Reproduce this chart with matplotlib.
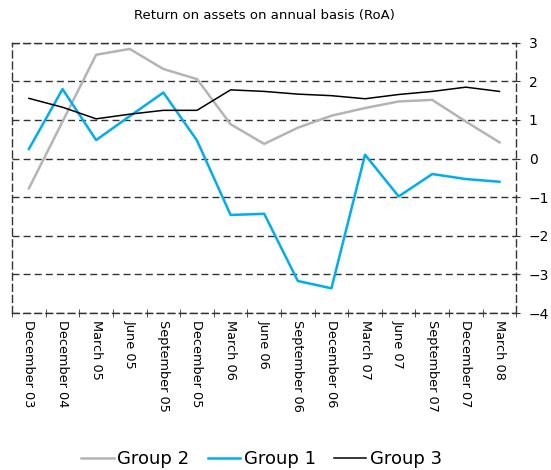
import numpy as np
import matplotlib.pyplot as plt

# quarterly return on assets, per cent
quarters = ['December 03', 'December 04', 'March 05', 'June 05', 'September 05',
            'December 05', 'March 06', 'June 06', 'September 06', 'December 06',
            'March 07', 'June 07', 'September 07', 'December 07', 'March 08']
group2 = [-0.77, 0.96, 2.69, 2.84, 2.32, 2.06, 0.89, 0.38, 0.80, 1.11, 1.31, 1.48, 1.52, 0.96, 0.42]
group1 = [0.25, 1.80, 0.48, 1.10, 1.71, 0.47, -1.46, -1.43, -3.17, -3.36, 0.10, -0.98, -0.40, -0.53, -0.60]
group3 = [1.56, 1.33, 1.03, 1.15, 1.25, 1.25, 1.78, 1.74, 1.67, 1.63, 1.55, 1.66, 1.74, 1.85, 1.74]

fig = plt.figure(figsize=(5.51, 4.70), dpi=100)
ax = fig.add_axes([0.022, 0.334, 0.915, 0.575])

x = np.arange(len(quarters))
ax.plot(x, group2, color='#b4b4b4', lw=1.8, label='Group 2')
ax.plot(x, group1, color='#00adef', lw=1.8, label='Group 1')
ax.plot(x, group3, color='black', lw=1.1, label='Group 3')

ax.set_xlim(-0.5, len(quarters) - 0.5)
ax.set_ylim(-4, 3)
ax.set_yticks(range(-4, 4))
ax.yaxis.tick_right()
ax.tick_params(axis='y', direction='inout', length=6, labelsize=10, pad=6, color='#333333')

ax.set_xticks(x)
ax.set_xticklabels(quarters, rotation=270, fontsize=9.3)
ax.set_xticks(np.arange(-0.5, len(quarters)), minor=True)
ax.tick_params(axis='x', which='major', length=0, pad=5)
ax.tick_params(axis='x', which='minor', direction='inout', length=6, color='#333333')

ax.grid(axis='y', color='#333333', linestyle=(0, (5, 3)), lw=1.0)
for s in ax.spines.values():
    s.set_linestyle((0, (5, 3)))
    s.set_color('#333333')
    s.set_linewidth(1.0)

ax.set_title('Return on assets on annual basis (RoA)', fontsize=9.5, pad=17)

fig.legend(loc='lower center', bbox_to_anchor=(0.475, -0.03), ncol=3, frameon=False,
           fontsize=13, handlelength=1.8, handletextpad=0.2, columnspacing=1.0)

fig.savefig('out.png', dpi=100)
